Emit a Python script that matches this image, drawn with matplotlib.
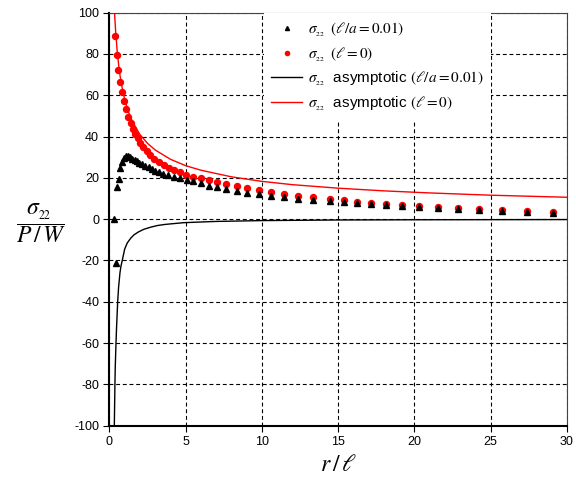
import matplotlib
matplotlib.use("Agg")
import matplotlib.pyplot as plt

plt.rcParams['font.family'] = ['Liberation Sans', 'DejaVu Sans']
plt.rcParams['mathtext.fontset'] = 'stix'
plt.rcParams['axes.unicode_minus'] = False

# sigma_22 for l/a = 0.01 (triangles)
r_tri = [0.30, 0.40, 0.49, 0.60, 0.71, 0.85, 0.97, 1.08, 1.21, 1.35, 1.50, 1.65, 1.80,
         1.96, 2.15, 2.35, 2.57, 2.77, 2.99, 3.23, 3.53, 3.86, 4.23, 4.63, 5.07, 5.50,
         6.00, 6.53, 7.07, 7.66, 8.35, 9.04, 9.79, 10.58, 11.45, 12.37, 13.37, 14.45,
         15.41, 16.24, 17.18, 18.16, 19.19, 20.33, 21.56, 22.85, 24.24, 25.77, 27.38, 29.12]
s_tri = [0.3, -21.0, 15.7, 19.3, 24.9, 27.7, 29.6, 30.4, 30.4, 30.1, 29.3, 28.7, 28.0,
         27.4, 26.5, 25.9, 25.1, 24.3, 23.5, 22.9, 22.0, 21.2, 20.6, 19.9, 19.1, 18.3,
         17.3, 16.2, 15.4, 14.4, 13.5, 12.8, 12.1, 11.4, 10.6, 9.9, 9.1, 8.7,
         8.1, 7.8, 7.3, 6.9, 6.5, 6.0, 5.4, 4.8, 4.3, 3.9, 3.4, 2.9]

# sigma_22 for l = 0 (dots)
r_dot = [0.38, 0.49, 0.58, 0.69, 0.82, 0.95, 1.08, 1.23, 1.39, 1.54, 1.69, 1.85, 2.02,
         2.22, 2.44, 2.68, 2.94, 3.23, 3.56, 3.88, 4.23, 4.63, 5.04, 5.50, 6.00, 6.53,
         7.07, 7.66, 8.35, 9.04, 9.79, 10.58, 11.45, 12.37, 13.37, 14.45, 15.41, 16.24,
         17.18, 18.16, 19.19, 20.33, 21.56, 22.85, 24.24, 25.77, 27.38, 29.12]
s_dot = [88.7, 79.7, 72.4, 66.5, 61.4, 57.0, 53.2, 49.6, 46.6, 43.8, 41.4, 39.1, 37.0,
         35.0, 32.8, 30.9, 29.2, 27.5, 26.1, 24.8, 23.6, 22.6, 21.5, 20.6, 19.8, 19.0,
         17.8, 16.8, 15.9, 14.9, 13.9, 13.0, 12.2, 11.4, 10.6, 9.7, 9.1, 8.5,
         8.0, 7.5, 7.0, 6.5, 5.9, 5.2, 4.7, 4.3, 3.8, 3.3]

# asymptotic curves
r_asym_l = [0.30, 0.32, 0.36, 0.38, 0.43, 0.47, 0.54, 0.60, 0.69, 0.75, 0.84, 1.00, 1.17,
            1.40, 1.61, 1.90, 2.26, 2.70, 3.14, 3.60, 4.01, 4.89, 7.0, 10.0, 15.0, 20.0, 30.0]
s_asym_l = [-115, -100, -80, -72, -60, -52, -40, -33, -26, -23, -20, -14.5, -11.5,
            -9.2, -7.6, -6.2, -4.9, -3.9, -3.1, -2.6, -2.3, -1.7, -1.1, -0.7, -0.4, -0.3, -0.2]

r_asym_0 = [0.30, 0.35, 0.40, 0.50, 0.60, 0.70, 0.80, 1.00, 1.25, 1.50, 2.0, 2.5, 3.0,
            4.0, 5.0, 6.0, 8.0, 10.0, 12.0, 15.0, 18.0, 21.0, 25.0, 30.0]
s_asym_0 = [105.9, 98.0, 91.7, 82.0, 74.9, 69.3, 64.8, 58.0, 51.9, 47.4, 41.0, 36.7, 33.5,
            29.0, 25.9, 23.7, 20.5, 18.3, 16.7, 15.0, 13.7, 12.7, 11.6, 10.6]

fig = plt.figure(figsize=(5.76, 4.87), dpi=100)
ax = fig.add_axes([0.190, 0.126, 0.794, 0.848])

ax.plot(r_tri, s_tri, linestyle='none', marker='^', color='black', markersize=4.2,
        label=r'$\sigma_{_{22}}\;\;(\ell/a=0.01)$', zorder=4)
ax.plot(r_dot, s_dot, linestyle='none', marker='o', color='red', markersize=4.3,
        label=r'$\sigma_{_{22}}\;\;(\ell=0)$', zorder=3)
ax.plot(r_asym_l, s_asym_l, color='black', linewidth=1.0,
        label=r'$\sigma_{_{22}}$  asymptotic $(\ell/a=0.01)$', zorder=2)
ax.plot(r_asym_0, s_asym_0, color='red', linewidth=1.0,
        label=r'$\sigma_{_{22}}$  asymptotic $(\ell=0)$', zorder=2)

ax.set_xlim(0, 30)
ax.set_ylim(-100, 100)
ax.set_xticks(range(0, 31, 5))
ax.set_yticks(range(-100, 101, 20))
ax.grid(True, color='black', linestyle=(0, (3.5, 2.5)), linewidth=0.8)
ax.set_axisbelow(True)
ax.tick_params(direction='out', length=4, labelsize=9)

for side in ['left', 'bottom']:
    ax.spines[side].set_linewidth(1.5)
for side in ['top', 'right']:
    ax.spines[side].set_linewidth(0.8)
    ax.spines[side].set_color('#444444')

ax.set_xlabel(r'$r\,/\,\ell$', fontsize=17, labelpad=4)
fig.text(0.072, 0.543, r'$\dfrac{\sigma_{_{22}}}{P\,/\,W}$', fontsize=17,
         ha='center', va='center')

leg = ax.legend(loc='upper right', bbox_to_anchor=(0.835, 1.0), borderaxespad=0.0,
                fontsize=11, frameon=True, fancybox=False, framealpha=1.0,
                edgecolor='none', markerscale=0.7, handlelength=2.0,
                handletextpad=0.4, labelspacing=0.4, borderpad=0.5)

fig.savefig('out.png', dpi=100)
